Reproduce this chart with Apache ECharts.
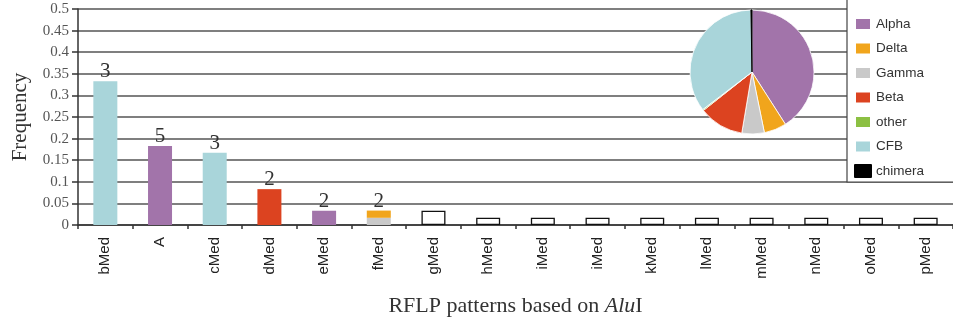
<!DOCTYPE html>
<html><head><meta charset="utf-8">
<script src="https://cdn.jsdelivr.net/npm/echarts@6/dist/echarts.min.js"></script>
<style>html,body{margin:0;padding:0;background:#fff}#c{width:953px;height:322px}</style>
</head><body><div id="c"></div>
<script>
const categories = ['bMed','A','cMed','dMed','eMed','fMed','gMed','hMed','iMed','iMed','kMed','lMed','mMed','nMed','oMed','pMed'];
const cfbFreq   = [0.333,0,0.167,0,0,0,0,0,0,0,0,0,0,0,0,0];
const alphaFreq = [0,0.183,0,0,0.033,0,0,0,0,0,0,0,0,0,0,0];
const betaFreq  = [0,0,0,0.083,0,0,0,0,0,0,0,0,0,0,0,0];
const gammaFreq = [0,0,0,0,0,0.0167,0,0,0,0,0,0,0,0,0,0];
const deltaFreq = [0,0,0,0,0,0.0167,0,0,0,0,0,0,0,0,0,0];
const otherFreq = [0,0,0,0,0,0,0.033,0.0167,0.0167,0.0167,0.0167,0.0167,0.0167,0.0167,0.0167,0.0167];
const counts    = ['3','5','3','2','2','2','','','','','','','','','',''];
const pieNames  = ['Alpha','Delta','Gamma','Beta','other','CFB','chimera'];
const pieValues = [7,1,1,2,0,6,0];
const yTicks    = {min:0, max:0.5, interval:0.05};

const colors = {Alpha:'#a274aa',Delta:'#f1a51c',Gamma:'#c9c9c9',Beta:'#dc4320',other:'#8cc043',CFB:'#a9d5da',chimera:'#000000'};
const serif = '"Liberation Serif","Times New Roman",serif';
const sans = '"Liberation Sans",Arial,sans-serif';

function barSeries(name, data, color, extra){
  return Object.assign({
    name: name, type:'bar', stack:'s', barWidth:24,
    data:data.map(v => v === 0 ? '-' : v),
    itemStyle:{color:color}, emphasis:{disabled:true}
  }, extra||{});
}

const chart = echarts.init(document.getElementById('c'));
chart.setOption({
  animation:false,
  grid:{left:78, top:9, right:-6, bottom:97},
  xAxis:{
    type:'category', data:categories,
    name:'{n|RFLP patterns based on }{i|Alu}{n|I}', nameLocation:'middle', nameGap:70,
    nameTextStyle:{rich:{n:{fontFamily:serif,fontSize:22,color:'#333'},i:{fontFamily:serif,fontSize:22,fontStyle:'italic',color:'#333'}}},
    axisLine:{lineStyle:{color:'#333',width:1.5}},
    axisTick:{show:true, length:4, lineStyle:{color:'#333',width:1.5}},
    axisLabel:{rotate:90, interval:0, margin:12, fontFamily:sans, fontSize:15, color:'#222'}
  },
  yAxis:{
    type:'value', min:yTicks.min, max:yTicks.max, interval:yTicks.interval,
    name:'Frequency', nameLocation:'middle', nameGap:47,
    nameTextStyle:{fontFamily:serif,fontSize:21,color:'#333'},
    axisLine:{show:true, lineStyle:{color:'#333',width:1.5}},
    axisTick:{show:true, length:6, lineStyle:{color:'#333',width:1.5}},
    axisLabel:{fontFamily:serif, fontSize:15, color:'#555', margin:9},
    splitLine:{lineStyle:{color:'#555',width:1.6}}
  },
  legend:{
    orient:'vertical', left:847, top:-2,
    data:pieNames,
    itemWidth:16, itemHeight:12, itemGap:10.5,
    padding:[19,40,4,7],
    backgroundColor:'#fff', borderColor:'#444', borderWidth:1.2,
    textStyle:{fontFamily:sans, fontSize:13.5, color:'#333'},
    icon:'rect', selectedMode:false
  },
  series:[
    barSeries('bCFB', cfbFreq, colors.CFB),
    barSeries('bAlpha', alphaFreq, colors.Alpha),
    barSeries('bBeta', betaFreq, colors.Beta),
    barSeries('bGamma', gammaFreq, colors.Gamma),
    barSeries('bDelta', deltaFreq, colors.Delta),
    barSeries('bOther', otherFreq, '#fff', {itemStyle:{color:'#fff',borderColor:'#111',borderWidth:1.3}}),
    {
      name:'counts', type:'bar', stack:'s', barWidth:24, data:counts.map(()=>0),
      itemStyle:{color:'transparent'}, emphasis:{disabled:true},
      label:{show:true, position:'top', distance:-1, fontFamily:serif, fontSize:21, color:'#333',
        formatter:p=>counts[p.dataIndex]}
    },
    {
      type:'pie', center:[752,72], radius:62, startAngle:90, clockwise:true, minAngle:1,
      label:{show:false}, labelLine:{show:false}, emphasis:{disabled:true},
      data: pieNames.map((n,i)=>({name:n, value:pieValues[i],
        itemStyle:{color:colors[n], borderColor: n==='chimera' ? '#000' : '#fff', borderWidth: n==='chimera'?1:0.8}}))
    }
  ]
});
</script></body></html>
